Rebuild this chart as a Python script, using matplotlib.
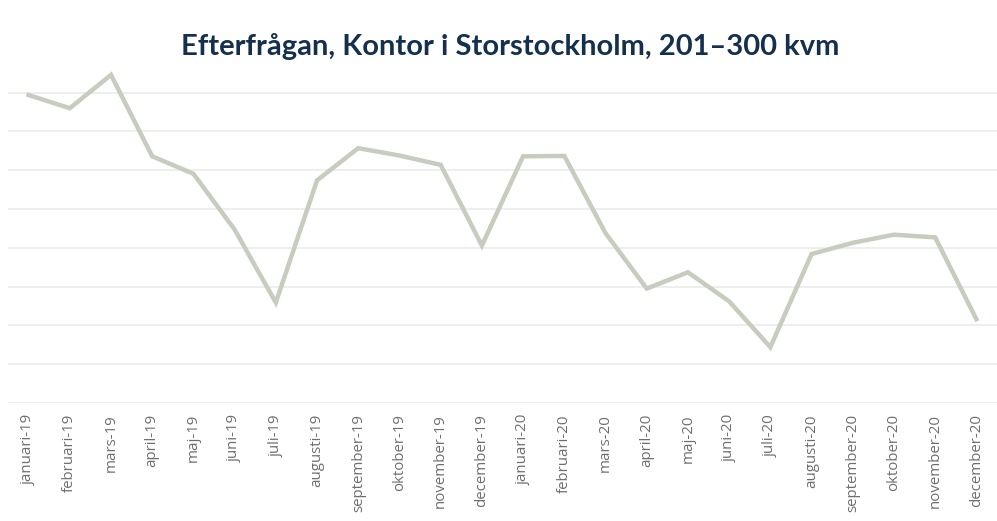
import matplotlib
matplotlib.use('Agg')
import matplotlib.pyplot as plt

months = ['januari-19', 'februari-19', 'mars-19', 'april-19', 'maj-19', 'juni-19',
          'juli-19', 'augusti-19', 'september-19', 'oktober-19', 'november-19', 'december-19',
          'januari-20', 'februari-20', 'mars-20', 'april-20', 'maj-20', 'juni-20',
          'juli-20', 'augusti-20', 'september-20', 'oktober-20', 'november-20', 'december-20']
values = [7.94, 7.60, 8.46, 6.36, 5.91, 4.47, 2.59, 5.74, 6.57, 6.38, 6.14, 4.06,
          6.36, 6.37, 4.38, 2.95, 3.37, 2.62, 1.44, 3.84, 4.13, 4.34, 4.27, 2.16]
grid_levels = [0, 1, 2, 3, 4, 5, 6, 7, 8]

fig = plt.figure(figsize=(9.97, 5.21), dpi=100)
ax = fig.add_axes([0.008, 0.2265, 0.992, 0.670])

x = list(range(len(months)))
ax.plot(x, values, color='#c6cdbf', linewidth=3.2, solid_joinstyle='miter', zorder=3)

ax.set_xlim(-0.5, len(months) - 0.5)
ax.set_ylim(0, 9)
ax.set_yticks(grid_levels)
ax.set_yticklabels([])
ax.grid(axis='y', color='#ebebeb', linewidth=1.2, zorder=0)
ax.tick_params(axis='y', length=0)

ax.set_xticks(x)
ax.set_xticklabels(months, rotation=90, fontsize=10.8, color='#6e6e6e',
                   family=['Open Sans', 'DejaVu Sans'])
ax.tick_params(axis='x', length=0, pad=8)

for s in ['top', 'right', 'left', 'bottom']:
    ax.spines[s].set_visible(False)

fig.text(0.512, 0.91, 'Efterfrågan, Kontor i Storstockholm, 201–300 kvm',
         ha='center', va='center', fontsize=21, fontweight='bold', color='#15304f',
         family=['Lato', 'DejaVu Sans'])

fig.savefig('out.png', dpi=100)
